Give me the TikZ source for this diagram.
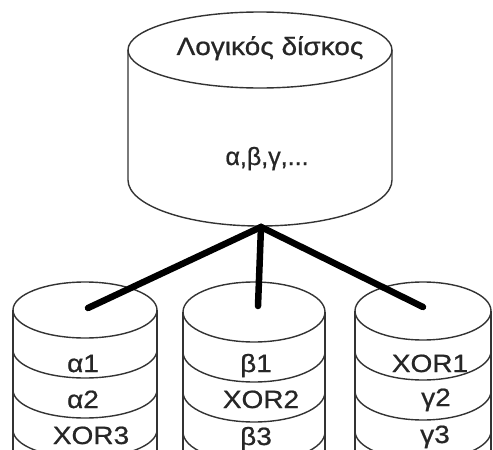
\documentclass[tikz,border=0pt]{standalone}
\usepackage{fontspec}
\setmainfont{Liberation Sans}[BoldFont=Liberation Sans, BoldFeatures={FakeBold=0.7}]
\usetikzlibrary{calc}
\tikzset{
  outl/.style={draw=black!80, line width=1.4pt},
  conn/.style={draw=black, line width=6.5pt, line cap=round},
  lbl/.style={text=black!85, inner sep=0pt, anchor=base, font=\fontsize{25}{28}\selectfont\bfseries},
}
\newcommand\widelbl[1]{\scalebox{1.12}[1]{#1}}
\newcommand\minicyl[4]{%
  \draw[outl] (#1,#2) ellipse[x radius=#3, y radius=#4];
  \foreach \k in {1,2,3}{
    \draw[outl] (#1-#3,#2+40*\k) arc[start angle=180, end angle=0, x radius=#3, y radius=#4];
  }
  \draw[outl] (#1-#3,#2) -- (#1-#3,470);
  \draw[outl] (#1+#3,#2) -- (#1+#3,470);
}
\begin{document}
\begin{tikzpicture}[x=1pt, y=-1pt]
  \useasboundingbox (0,0) rectangle (493,450);
  \clip (0,0) rectangle (493,450);
  \fill[white] (0,0) rectangle (493,450);
  % big cylinder
  \draw[outl] (260,50) ellipse[x radius=132, y radius=38];
  \draw[outl] (128,50) -- (128,180) arc[start angle=180, end angle=0, x radius=132, y radius=46] -- (392,50);
  \node[lbl] (title) at (270,55) {\widelbl{Λογικός δίσκος}};
  \node[lbl] (abc) at (267,165) {α,β,γ,...};
  % small cylinders
  \minicyl{85}{310}{72}{28}
  \minicyl{254}{312}{71}{30}
  \minicyl{423}{311}{68}{29}
  \node[lbl] (a1) at (83,372) {\widelbl{α1}};
  \node[lbl] (a2) at (83,408) {\widelbl{α2}};
  \node[lbl] (x3) at (91,444) {\widelbl{XOR3}};
  \node[lbl] (b1) at (256,372) {\widelbl{β1}};
  \node[lbl] (x2) at (261,408) {\widelbl{XOR2}};
  \node[lbl] (b3) at (256,445) {\widelbl{β3}};
  \node[lbl] (x1) at (430,372) {\widelbl{XOR1}};
  \node[lbl] (g2) at (436,406) {\widelbl{γ2}};
  \node[lbl] (g3) at (435,443) {\widelbl{γ3}};
  % connectors
  \coordinate (jn) at (261,227);
  \coordinate (ta) at (88,308);
  \coordinate (tb) at (258,306);
  \coordinate (tc) at (423,307);
  \draw[conn] (ta) -- (jn) -- (tc);
  \draw[conn] (jn) -- (tb);
\end{tikzpicture}
\end{document}
